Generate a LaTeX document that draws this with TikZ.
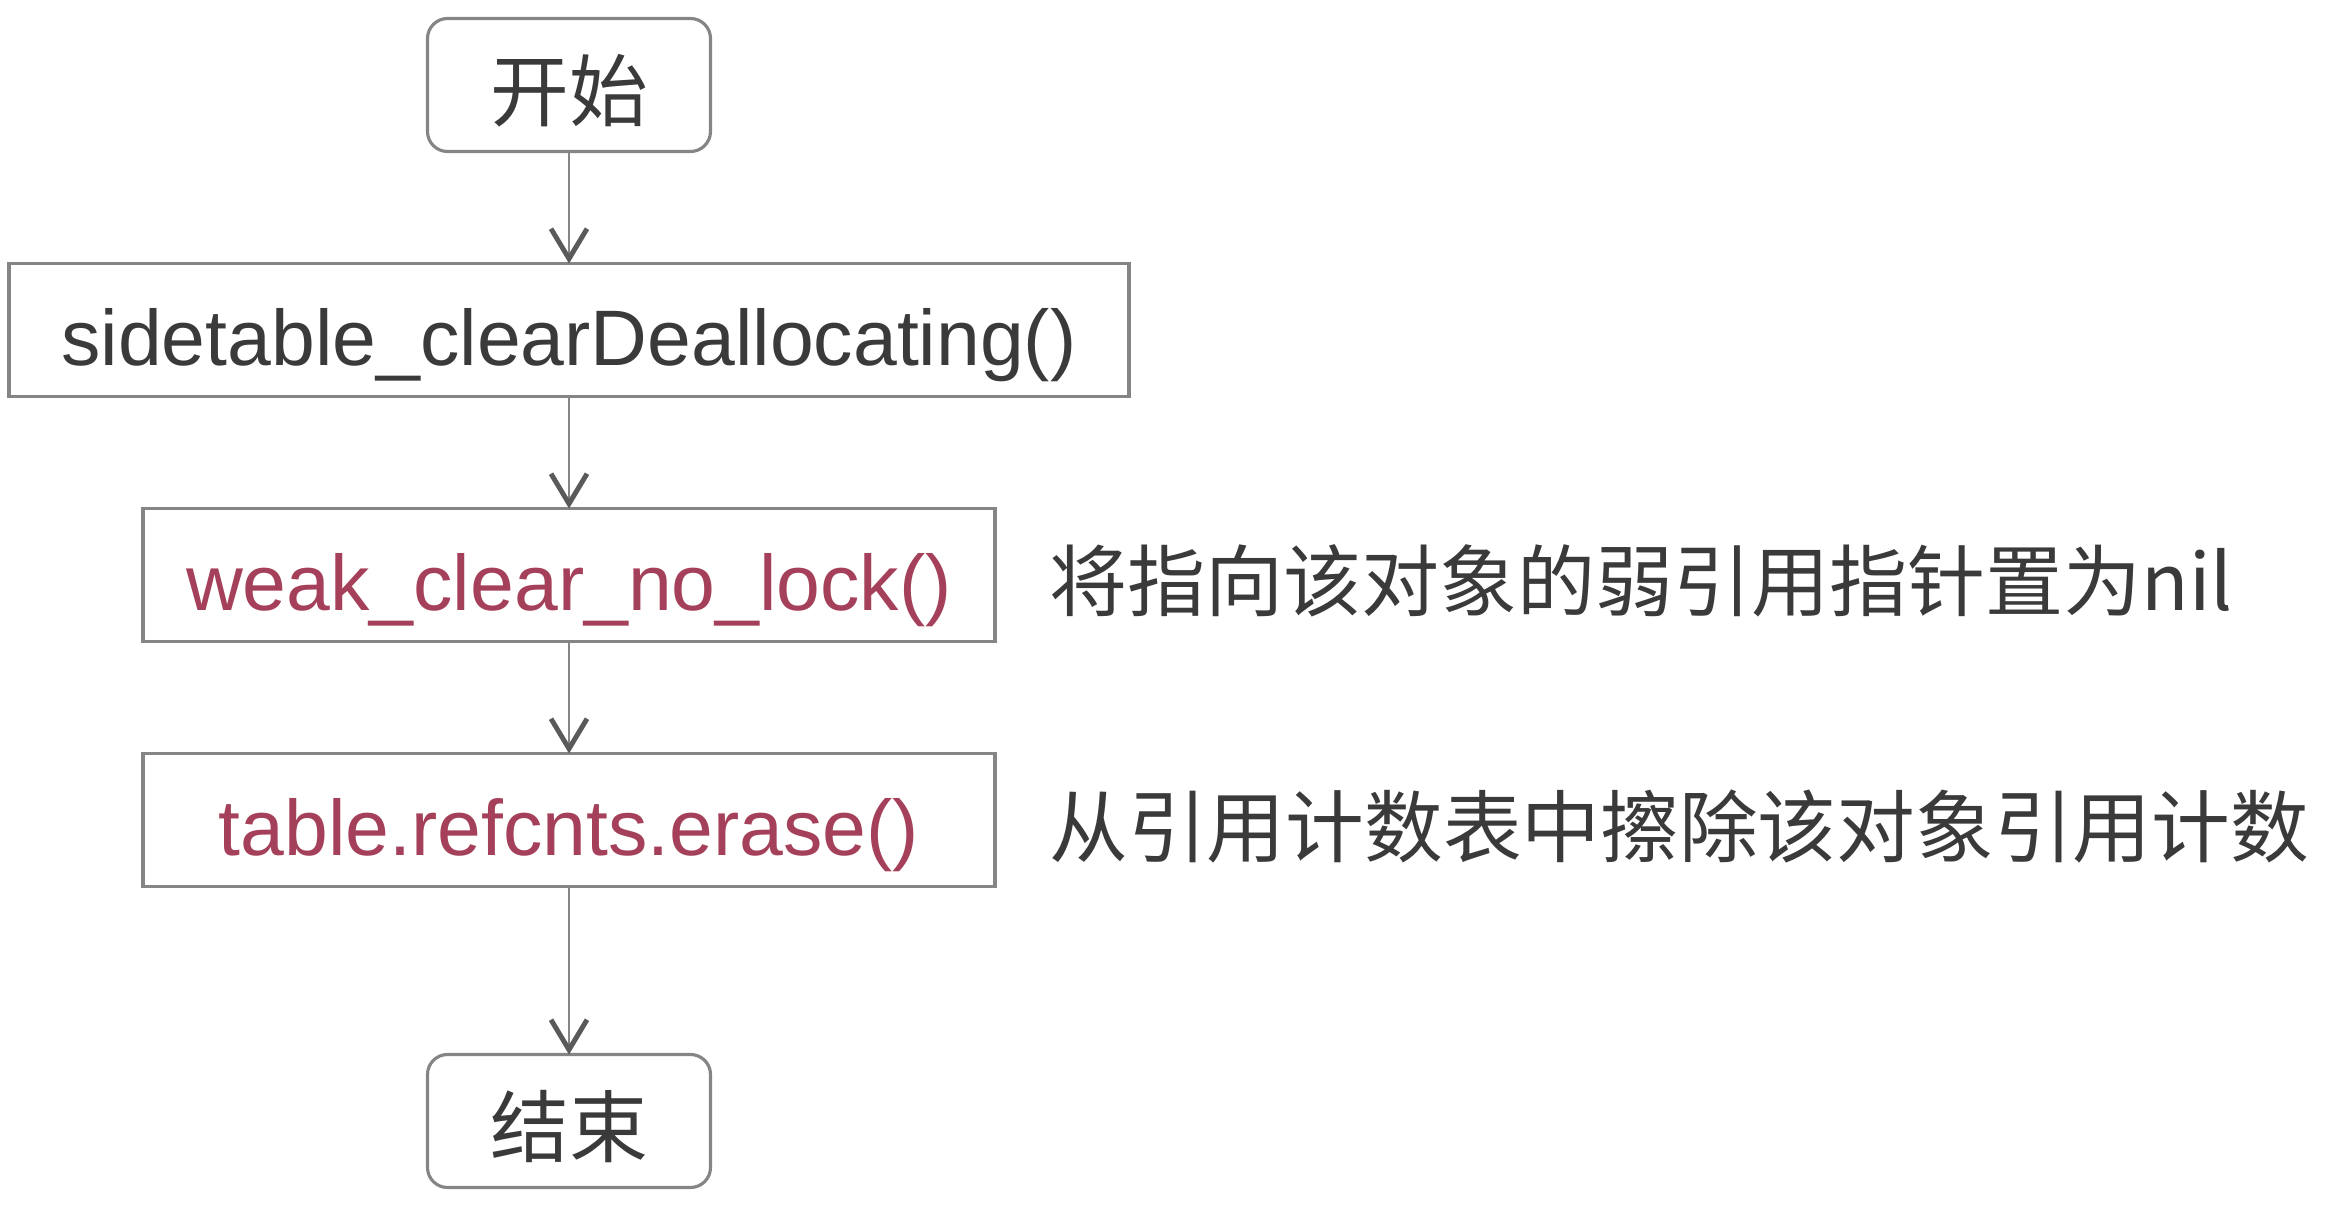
\documentclass[tikz,border=0pt]{standalone}
\usepackage{fontspec}
\setmainfont{Liberation Sans}
\newfontfamily\cjk{Noto Sans CJK SC}
\usetikzlibrary{arrows.meta,positioning,calc}
\definecolor{boxgray}{HTML}{858585}
\definecolor{tipgray}{HTML}{5A5A5A}
\definecolor{txtgray}{HTML}{3A3A3A}
\definecolor{fnred}{HTML}{A5405A}

\begin{document}
\begin{tikzpicture}[
  node distance=1.12cm,
  box/.style={rectangle, draw=boxgray, line width=0.9pt, minimum height=1.33cm, inner sep=0pt, outer sep=0pt, text height=0.8cm, text depth=0.1cm, text=txtgray, font=\fontsize{22.4}{26}\selectfont},
  term/.style={box, rounded corners=0.2cm, minimum width=2.83cm, font=\cjk\fontsize{22.4}{26}\selectfont},
  arrow/.style={-{Straight Barb[length=0.3cm, width=0.36cm, line width=1.4pt, color=tipgray]}, draw=boxgray, line width=0.7pt}
]
\useasboundingbox (0,0) rectangle (23.34,12.08);

% Nodes
\node[term] (start) at (5.69,11.23) {开始};
\node[box, below=of start, minimum width=11.2cm] (clear) {sidetable\_clearDeallocating()};
\node[box, below=of clear, minimum width=8.52cm, text=fnred] (weak) {weak\_clear\_no\_lock()};
\node[box, below=of weak, minimum width=8.52cm, text=fnred] (erase) {table.refcnts.erase()};
\node[term, below=1.68cm of erase] (finish) {结束};

% Arrows
\draw[arrow] (start) -- (clear);
\draw[arrow] (clear) -- (weak);
\draw[arrow] (weak) -- (erase);
\draw[arrow] (erase) -- (finish);

% Labels
\node[anchor=west, text=txtgray, font=\cjk\fontsize{22.2}{26}\selectfont] (weaknote) at ($(weak.east) + (0.42,-0.06)$) {将指向该对象的弱引用指针置为nil};
\node[anchor=west, text=txtgray, font=\cjk\fontsize{22.4}{26}\selectfont] (erasenote) at ($(erase.east) + (0.42,-0.06)$) {从引用计数表中擦除该对象引用计数};

\end{tikzpicture}
\end{document}
